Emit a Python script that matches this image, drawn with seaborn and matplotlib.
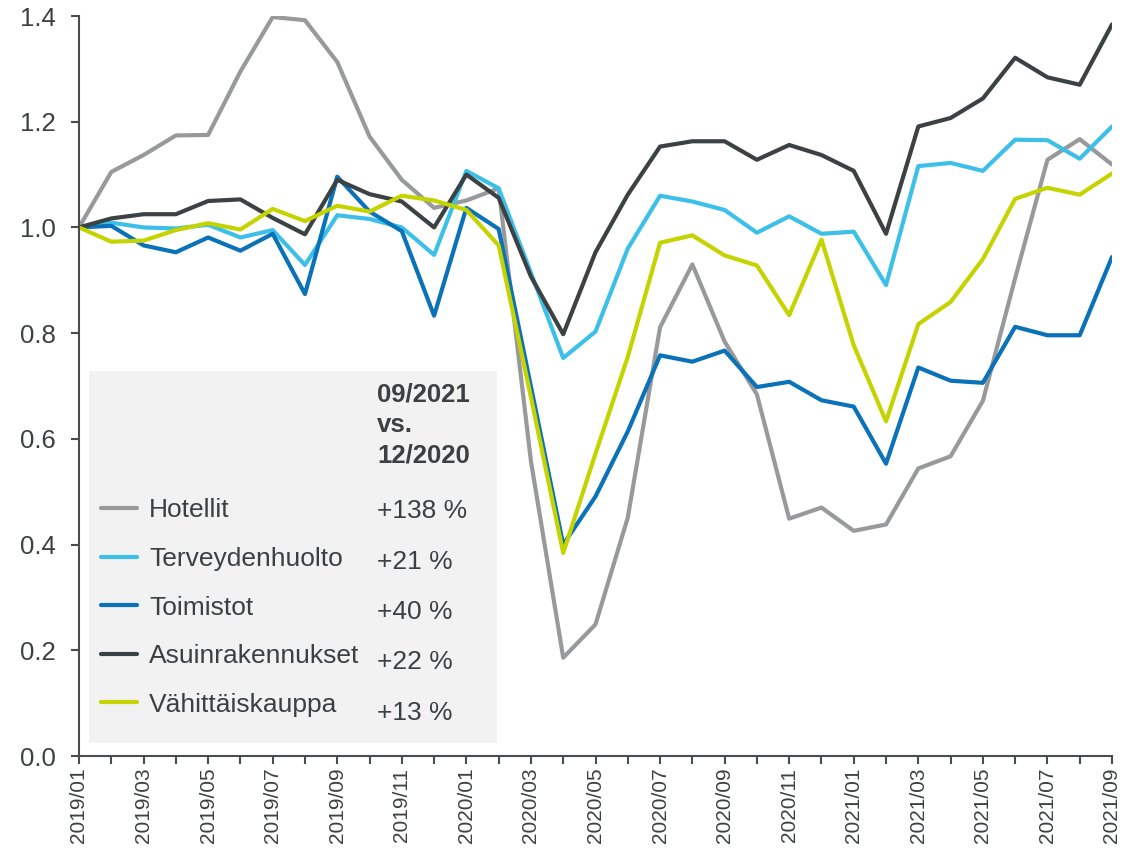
import numpy as np
import pandas as pd
import seaborn as sns
import matplotlib.pyplot as plt
from matplotlib.patches import Rectangle
from matplotlib.lines import Line2D

# Monthly index values, 2019/01 = 1.0
months = pd.date_range('2019-01-01', periods=33, freq='MS').strftime('%Y/%m').tolist()

hotellit = [1.000, 1.105, 1.137, 1.174, 1.175, 1.295, 1.398, 1.392, 1.313, 1.172, 1.090,
            1.037, 1.051, 1.074, 0.558, 0.186, 0.249, 0.451, 0.811, 0.930, 0.784, 0.684,
            0.449, 0.470, 0.426, 0.438, 0.544, 0.567, 0.672, 0.904, 1.128, 1.167, 1.119]
terveys = [1.000, 1.009, 1.000, 0.998, 1.005, 0.981, 0.995, 0.929, 1.023, 1.016, 1.000,
           0.948, 1.107, 1.074, 0.914, 0.753, 0.803, 0.960, 1.060, 1.049, 1.033, 0.990,
           1.021, 0.988, 0.992, 0.891, 1.116, 1.122, 1.107, 1.166, 1.165, 1.130, 1.191]
toimistot = [1.000, 1.003, 0.966, 0.953, 0.981, 0.956, 0.988, 0.874, 1.096, 1.030, 0.993,
             0.833, 1.037, 0.997, 0.699, 0.400, 0.491, 0.614, 0.758, 0.746, 0.767, 0.698,
             0.708, 0.673, 0.661, 0.553, 0.735, 0.710, 0.706, 0.812, 0.796, 0.796, 0.944]
asuin = [1.000, 1.017, 1.025, 1.025, 1.050, 1.053, 1.018, 0.987, 1.090, 1.063, 1.049,
         1.000, 1.100, 1.056, 0.907, 0.798, 0.953, 1.062, 1.153, 1.163, 1.163, 1.128,
         1.156, 1.137, 1.107, 0.988, 1.191, 1.207, 1.244, 1.321, 1.284, 1.270, 1.384]
vahittais = [1.000, 0.973, 0.975, 0.995, 1.008, 0.996, 1.035, 1.012, 1.041, 1.030, 1.060,
             1.051, 1.033, 0.966, 0.679, 0.384, 0.572, 0.755, 0.971, 0.985, 0.947, 0.928,
             0.834, 0.977, 0.777, 0.633, 0.817, 0.859, 0.940, 1.054, 1.075, 1.062, 1.102]

names = ['Hotellit', 'Terveydenhuolto', 'Toimistot', 'Asuinrakennukset', 'Vähittäiskauppa']
changes = ['+138 %', '+21 %', '+40 %', '+22 %', '+13 %']
colors = ['#98999b', '#3cc0ea', '#0a72b8', '#3c4144', '#c5d300']

series = [hotellit, terveys, toimistot, asuin, vahittais]
df = pd.concat([pd.DataFrame({'idx': np.arange(len(months)), 'month': months,
                              'value': vals, 'series': name})
                for name, vals in zip(names, series)], ignore_index=True)

sns.set_style('ticks')
plt.rcParams['font.family'] = ['Liberation Sans', 'DejaVu Sans']
txt = '#3c4043'

fig = plt.figure(figsize=(11.44, 8.49), dpi=100)
ax = fig.add_axes([79 / 1144, (849 - 756) / 849, 1033 / 1144, 740 / 849])

sns.lineplot(data=df, x='idx', y='value', hue='series', hue_order=names,
             palette=dict(zip(names, colors)), linewidth=3, legend=False, ax=ax)

ax.set_xlim(0, len(months) - 1)
ax.set_ylim(0, 1.4)
ax.set_yticks(np.arange(0, 1.41, 0.2))
ax.set_yticklabels([f'{v:.1f}' for v in np.arange(0, 1.41, 0.2)], fontsize=18.5, color=txt)
ax.set_xticks(np.arange(len(months)))
ax.set_xticklabels([m if i % 2 == 0 else '' for i, m in enumerate(months)],
                   rotation=90, fontsize=15, color=txt)
ax.tick_params(axis='both', length=5.5, width=1.5, color='#4a4d50')
ax.tick_params(axis='y', pad=11)
ax.tick_params(axis='x', pad=3)
ax.set_xlabel('')
ax.set_ylabel('')
sns.despine(ax=ax)
for s in ['left', 'bottom']:
    ax.spines[s].set_color('#4a4d50')
    ax.spines[s].set_linewidth(1.5)

# grey box behind the legend
ax.add_patch(Rectangle((0.0097, 0.0176), 0.395, 0.503, transform=ax.transAxes,
                       facecolor='#f2f2f2', edgecolor='none', zorder=0))

col_x = 0.2885
ax.text(col_x, 0.505, '09/2021\nvs.\n12/2020', transform=ax.transAxes, fontsize=18.5,
        fontweight='bold', color=txt, va='top', ha='left', linespacing=1.36)

handles = [Line2D([], [], color=c, linewidth=3) for c in colors]
leg = ax.legend(handles, names, loc='upper left', bbox_to_anchor=(0.021, 0.348),
                frameon=False, fontsize=19, handlelength=1.39, handletextpad=0.44,
                labelspacing=0.93, borderaxespad=0, borderpad=0)
for t in leg.get_texts():
    t.set_color(txt)

for i, ch in enumerate(changes):
    ax.text(col_x, 0.331 - i * 0.0682, ch, transform=ax.transAxes, fontsize=19,
            color=txt, va='center', ha='left')

fig.savefig('out.png', dpi=100)
